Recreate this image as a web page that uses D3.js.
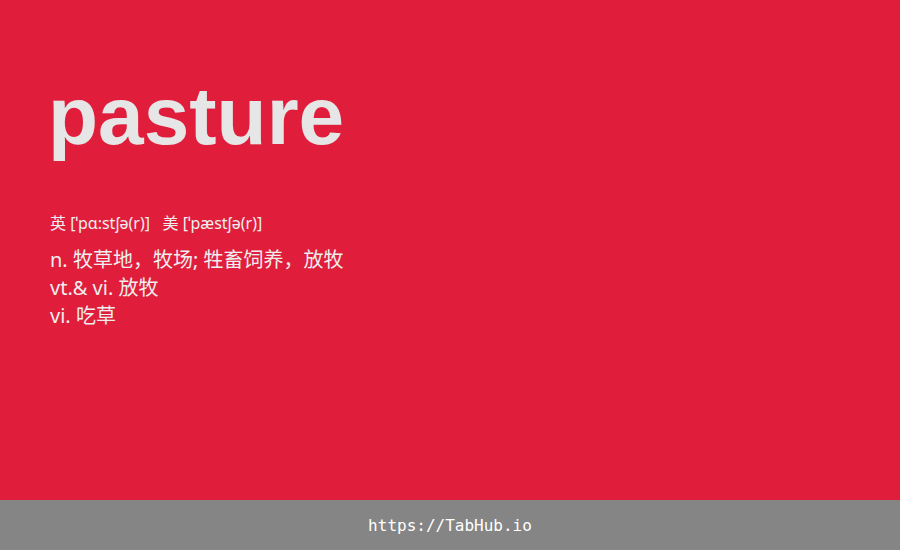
<!DOCTYPE html>
<html><head><meta charset="utf-8">
<script src="https://cdn.jsdelivr.net/npm/d3@7"></script>
<style>body{margin:0;}</style>
</head><body>
<script>
const word = 'pasture';
const phonetics = ['英 [ˈpɑ:stʃə(r)]', '美 [ˈpæstʃə(r)]'];
const meanings = ['n. 牧草地，牧场; 牲畜饲养，放牧', 'vt.& vi. 放牧', 'vi. 吃草'];
const footer = 'https://TabHub.io';

const W = 900, H = 550;
const svg = d3.select('body').append('svg').attr('width', W).attr('height', H);
svg.append('rect').attr('width', W).attr('height', 500).attr('fill', '#e01e3c');
svg.append('rect').attr('y', 500).attr('width', W).attr('height', 50).attr('fill', '#858585');

svg.append('text').attr('x', 48).attr('y', 144).text(word)
  .attr('font-family', 'Liberation Sans, Arial, sans-serif').attr('font-weight', 'bold')
  .attr('font-size', 82).attr('fill', '#e6e6e6');

const cjk = '"Noto Sans", "Noto Sans CJK SC", sans-serif';
svg.append('text').attr('x', 50).attr('y', 229).attr('xml:space', 'preserve')
  .text(phonetics.join('   '))
  .attr('font-family', cjk).attr('font-size', 16).attr('fill', '#eeeeee');

svg.selectAll('text.m').data(meanings).enter().append('text').attr('class', 'm')
  .attr('x', 50).attr('y', (d, i) => 267 + i * 28).text(d => d)
  .attr('font-family', cjk).attr('font-size', 20).attr('fill', '#eeeeee');

svg.append('text').attr('x', W / 2).attr('y', 531).attr('text-anchor', 'middle').text(footer)
  .attr('font-family', 'DejaVu Sans Mono, monospace').attr('font-size', 16).attr('fill', '#ffffff');
</script>
</body></html>
